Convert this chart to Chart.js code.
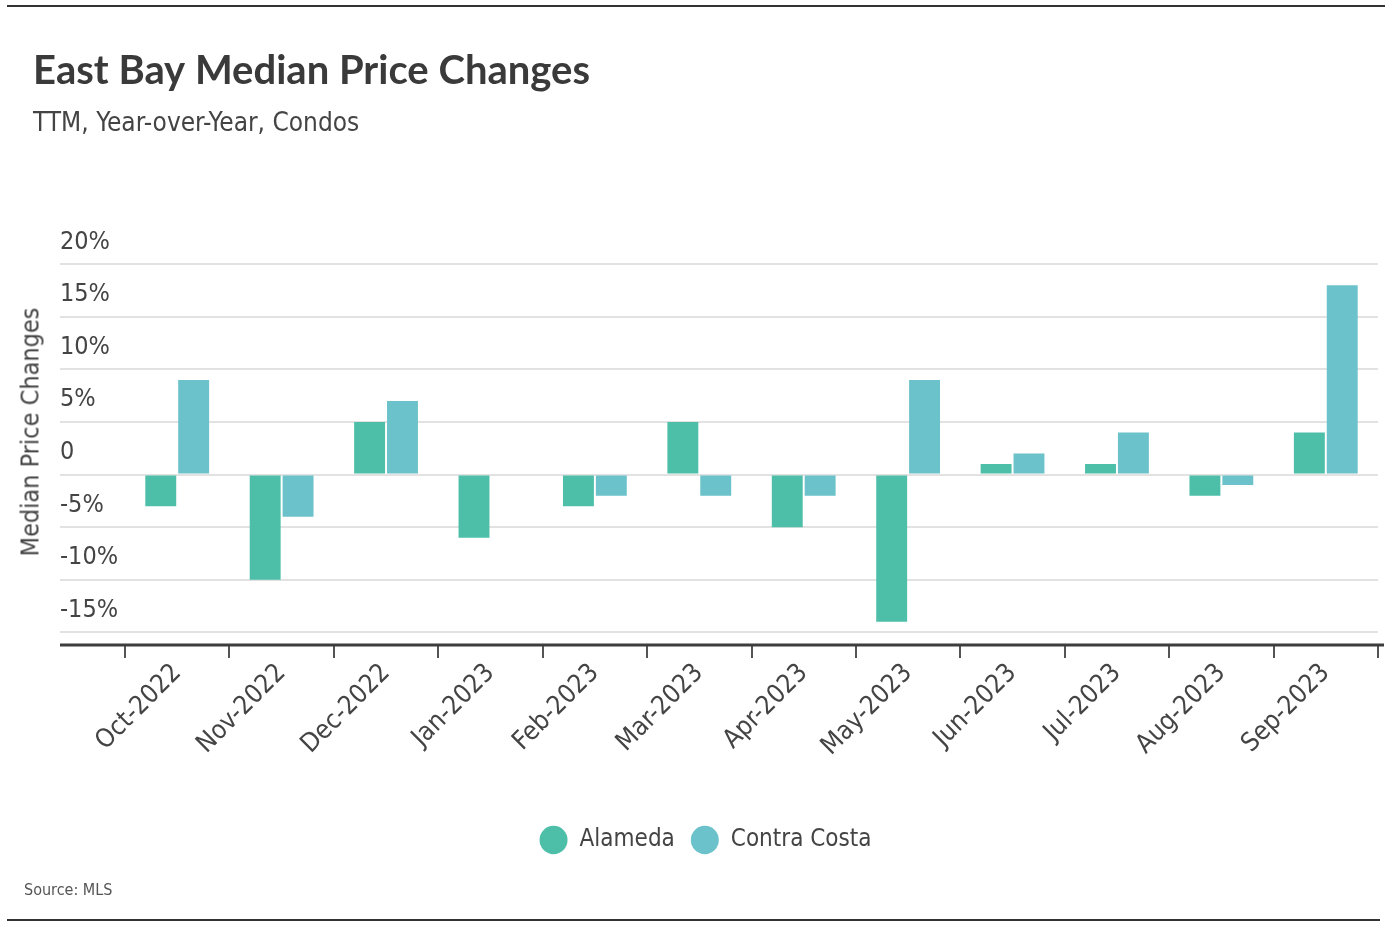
<!DOCTYPE html>
<html>
<head>
<meta charset="utf-8">
<title>East Bay Median Price Changes</title>
<script src="https://cdn.jsdelivr.net/npm/chart.js@4.4.0/dist/chart.umd.min.js"></script>
<style>
    html, body { margin: 0; padding: 0; background: #fff; }
    #wrap { position: relative; width: 1396px; height: 934px; }
    #chart-box { position: absolute; left: 0; top: 0; width: 1396px; height: 934px; }
    .rule { position: absolute; left: 7px; height: 2px; background: #333; }
    #rule-top { top: 5px; width: 1378px; }
    #rule-bottom { top: 919px; width: 1373px; }
    #y-title {
        position: absolute; left: 30px; top: 432px;
        transform: translate(-50%, -50%) rotate(-90deg);
        font: 25px 'Liberation Sans Narrow', 'DejaVu Sans Condensed', sans-serif;
        color: #444; white-space: nowrap;
    }
    #source {
        position: absolute; left: 24px; top: 880px;
        font: 16px 'Liberation Sans Narrow', 'DejaVu Sans Condensed', sans-serif;
        color: #555;
    }
</style>
</head>
<body>
<div id="wrap">
    <div id="chart-box"><canvas id="price-chart"></canvas></div>
    <div class="rule" id="rule-top"></div>
    <div class="rule" id="rule-bottom"></div>
    <div id="y-title">Median Price Changes</div>
    <div id="source">Source: MLS</div>
</div>
<script>
    // ─── Data ───
    const months = ['Oct-2022', 'Nov-2022', 'Dec-2022', 'Jan-2023', 'Feb-2023', 'Mar-2023',
                    'Apr-2023', 'May-2023', 'Jun-2023', 'Jul-2023', 'Aug-2023', 'Sep-2023'];
    const alameda = [-3, -10, 5, -6, -3, 5, -5, -14, 1, 1, -2, 4];
    const contraCosta = [9, -4, 7, 0, -2, -2, -2, 9, 2, 4, -1, 18];
    const yRange = { min: -16.2, max: 20, step: 5 };

    const NARROW = "'Liberation Sans Narrow', 'DejaVu Sans Condensed', sans-serif";
    const TEXT = '#444';
    const Y_TICK_LEN = 65;   // grid lines run under the y labels

    // thick base line that runs under the y labels too
    const baseLine = {
        id: 'baseLine',
        afterDatasetsDraw(chart) {
            const { ctx, chartArea } = chart;
            ctx.save();
            ctx.strokeStyle = '#3d3d3d';
            ctx.lineWidth = 3;
            ctx.beginPath();
            ctx.moveTo(chartArea.left - Y_TICK_LEN, chartArea.bottom);
            ctx.lineTo(chartArea.right + 6, chartArea.bottom);
            ctx.stroke();
            ctx.restore();
        },
    };

    const ctx = document.getElementById('price-chart').getContext('2d');
    new Chart(ctx, {
        type: 'bar',
        data: {
            labels: months,
            datasets: [
                {
                    label: 'Alameda',
                    data: alameda,
                    backgroundColor: '#4dbfa9',
                    borderWidth: 0,
                },
                {
                    label: 'Contra Costa',
                    data: contraCosta,
                    backgroundColor: '#6bc2ca',
                    borderWidth: 0,
                },
            ],
        },
        options: {
            responsive: true,
            maintainAspectRatio: false,
            animation: false,
            categoryPercentage: 0.63,
            barPercentage: 0.94,
            layout: { padding: { top: 0, left: 33, right: 18, bottom: 72 } },
            plugins: {
                title: {
                    display: true,
                    text: 'East Bay Median Price Changes',
                    align: 'start',
                    color: '#3a3a3a',
                    font: { family: 'Lato', size: 40, weight: 'bold' },
                    padding: { top: 47, bottom: 6 },
                },
                subtitle: {
                    display: true,
                    text: 'TTM, Year-over-Year, Condos',
                    align: 'start',
                    color: TEXT,
                    font: { family: NARROW, size: 26 },
                    padding: { top: 8, bottom: 124 },
                },
                legend: {
                    position: 'bottom',
                    labels: {
                        usePointStyle: true,
                        pointStyle: 'circle',
                        boxHeight: 20,
                        pointStyleWidth: 28,
                        padding: 16,
                        color: TEXT,
                        font: { family: NARROW, size: 24 },
                    },
                },
                tooltip: { enabled: false },
            },
            scales: {
                x: {
                    grid: {
                        drawOnChartArea: false,
                        drawTicks: true,
                        tickLength: 13,
                        color: '#555',
                        lineWidth: 2,
                    },
                    border: { display: false },
                    ticks: {
                        color: TEXT,
                        font: { family: NARROW, size: 26 },
                        minRotation: 45,
                        maxRotation: 45,
                        padding: 0,
                    },
                    afterFit(scale) { scale.height = 167; },
                },
                y: {
                    min: yRange.min,
                    max: yRange.max,
                    grid: {
                        color: '#e2e2e2',
                        lineWidth: 2,
                        drawTicks: true,
                        tickLength: Y_TICK_LEN,
                    },
                    border: { display: false },
                    ticks: {
                        stepSize: yRange.step,
                        includeBounds: false,
                        mirror: true,
                        padding: -Y_TICK_LEN,
                        labelOffset: -22,
                        color: TEXT,
                        font: { family: NARROW, size: 25 },
                        callback: (v) => (v === 0 ? '0' : v + '%'),
                    },
                    afterFit(scale) { scale.width = 92; },
                },
            },
        },
        plugins: [baseLine],
    });
</script>
</body>
</html>
